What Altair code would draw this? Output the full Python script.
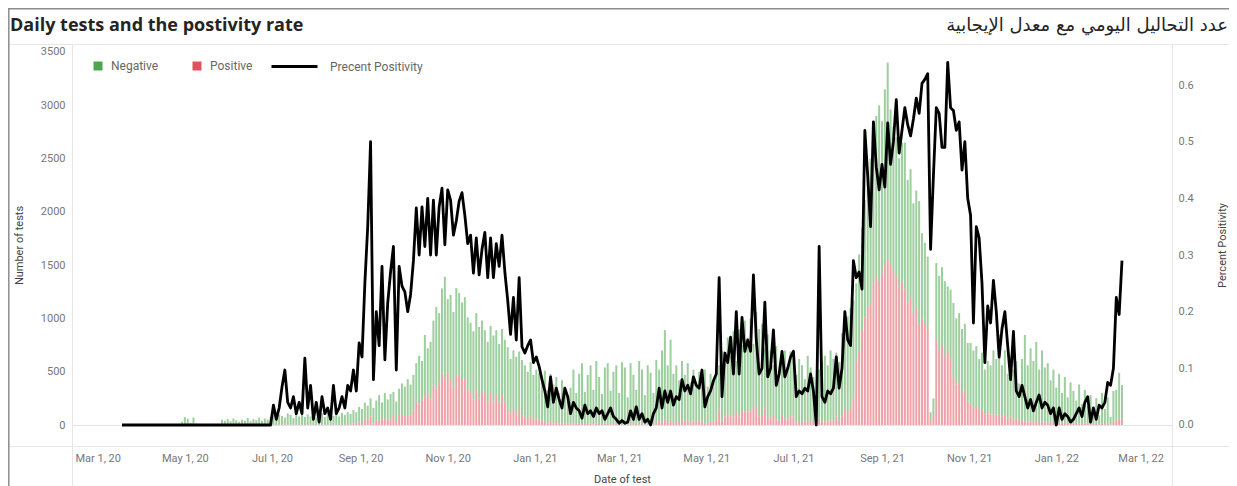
import altair as alt
import pandas as pd

# ---------------- data ----------------
START_DATE = "2020-03-18"   # first plotted day; one value every STEP_DAYS days
STEP_DAYS = 2

TITLE_EN = "Daily tests and the postivity rate"
TITLE_AR = "عدد التحاليل اليومي مع معدل الإيجابية"
RESULTS = ["Negative", "Positive"]
RESULT_COLORS = ["#4da64d", "#e0535c"]
LINE_NAME = "Precent Positivity"
X_TICKS = [(2020, 3, 1), (2020, 5, 1), (2020, 7, 1), (2020, 9, 1), (2020, 11, 1),
           (2021, 1, 1), (2021, 3, 1), (2021, 5, 1), (2021, 7, 1), (2021, 9, 1),
           (2021, 11, 1), (2022, 1, 1), (2022, 3, 1)]
LEFT_TICKS = [0, 500, 1000, 1500, 2000, 2500, 3000, 3500]
RIGHT_TICKS = [0.0, 0.1, 0.2, 0.3, 0.4, 0.5, 0.6]

negative = [
    0, 0, 0, 0, 0, 0, 0, 0, 0, 0, 0, 0, 0, 0, 0, 0, 0, 0, 0, 0,
    5, 30, 75, 60, 20, 70, 15, 10, 4, 0, 3, 0, 5, 2, 8,
    50, 40, 55, 35, 60, 45, 30, 50, 40, 65, 35, 55, 45, 70, 40, 60, 50, 75,
    87, 59, 97, 79, 63, 106, 92, 62, 103, 77, 93, 66,
    97, 74, 114, 67, 95, 105, 73, 116, 89, 79, 108, 78, 109, 92, 112, 99,
    126, 113, 145, 132, 160, 120, 170, 147,
    185, 240, 155, 255, 180, 235, 215, 195,
    245, 295, 275, 345, 290, 335,
    360, 460, 370, 575, 430, 540,
    610, 767, 650, 800,
    950,
    690, 800, 700, 825, 770, 720, 760,
    680, 650, 640, 710, 670, 680,
    600, 570, 630, 620, 610, 550, 610, 580,
    580, 510, 550, 540, 550, 520,
    490, 435, 510, 415, 460, 440, 410, 480,
    318, 442, 364, 422, 286, 407, 338, 266,
    343, 505, 291, 468, 573, 300, 461, 546, 325, 585, 441, 287, 529, 563, 315, 492,
    552, 298, 586, 537, 258, 566, 465, 319, 594, 510, 278, 554, 490, 294, 592,
    486, 679, 837, 538, 752, 463,
    532, 401, 552, 442, 539, 378, 476,
    353, 467, 406, 503, 342, 451, 387, 464,
    414, 665, 541, 730, 549, 801, 480, 819,
    610, 853, 697, 870, 600, 901, 819, 855, 564, 778,
    630, 466, 688, 437, 565, 640, 468, 607, 522, 446, 583, 529, 402, 611, 491, 423,
    150,
    460, 570, 624, 526, 661, 580, 598, 552,
    780, 800, 890, 950, 920,
    730, 900, 960, 1100, 1200, 1350,
    1410, 1500, 1650, 1430, 1650,
    1850,
    1440, 1350, 1300, 1200, 1300,
    1380, 1150, 1200, 1030, 1100, 1150, 800,
    760, 660,
    80, 150,
    720, 700, 730, 700, 600, 650,
    695, 620, 650, 600, 630, 550,
    570, 540, 560, 480, 530, 420, 480, 460,
    600, 530, 750, 480, 610, 420, 570, 470, 540, 350,
    580, 810, 530, 685, 575, 740, 492, 670, 515,
    555, 400, 498, 335, 460, 288, 432, 250, 385, 308, 222, 366, 194,
    316, 172, 268, 115, 240, 86, 287, 144, 248, 72, 300, 290, 430, 315,
]

positive = [
    0, 0, 0, 0, 0, 0, 0, 0, 0, 0, 0, 0, 0, 0, 0, 0, 0, 0, 0, 0,
    0, 0, 0, 0, 0, 0, 0, 0, 0, 0, 0, 0, 0, 0, 0,
    0, 0, 0, 0, 0, 0, 0, 0, 0, 0, 0, 0, 0, 0, 0, 0, 0, 0,
    3, 1, 3, 6, 7, 4, 3, 3, 2, 3, 2, 9,
    3, 6, 1, 3, 0, 5, 2, 4, 1, 6, 2, 2, 6, 3, 8, 6,
    14, 7, 25, 18, 50, 60, 80, 13,
    45, 40, 55, 45, 60, 55, 95, 25,
    95, 95, 85, 85, 90, 135,
    220, 190, 230, 270, 290, 240,
    370, 340, 400, 480,
    440,
    490, 420, 360, 460, 470, 430, 440,
    330, 310, 240, 340, 250, 300,
    290, 210, 300, 220, 280, 210, 290, 220,
    150, 110, 150, 100, 140, 90,
    70, 65, 80, 55, 60, 50, 40, 30,
    12, 38, 16, 28, 14, 13, 22, 14,
    7, 15, 9, 12, 7, 10, 9, 14, 5, 15, 9, 3, 11, 17, 5, 8,
    8, 2, 4, 3, 2, 14, 5, 11, 6, 10, 2, 6, 0, 6, 18,
    34, 21, 53, 22, 48, 17,
    28, 19, 48, 28, 41, 22, 44,
    27, 33, 44, 17, 18, 29, 33, 46,
    146, 35, 79, 90, 101, 79, 120, 81,
    140, 127, 123, 130, 160, 159, 81, 95, 156, 72,
    70, 94, 52, 43, 85, 60, 52, 83, 78, 24, 37, 31, 28, 39, 49, 27,
    0,
    60, 30, 26, 34, 39, 40, 82, 38,
    80, 150, 130, 150, 250,
    600, 700, 890, 1010, 1100, 1150,
    1330, 1400, 1350, 1420, 1500,
    1550,
    1520, 1450, 1400, 1300, 1350,
    1270, 1150, 1200, 1050, 1100, 950, 1000,
    950, 920,
    40, 100,
    800, 700, 750, 650, 700, 620,
    450, 380, 400, 300, 320, 220,
    200, 160, 180, 140, 150, 100, 120, 100,
    100, 90, 100, 80, 90, 60, 80, 50, 60, 40,
    40, 35, 30, 35, 25, 40, 28, 30, 25,
    25, 20, 22, 15, 20, 12, 18, 10, 15, 12, 8, 14, 6,
    14, 8, 12, 5, 10, 4, 13, 6, 12, 3, 20, 40, 60, 60,
]

positivity = [
    0, 0, 0, 0, 0, 0, 0, 0, 0, 0, 0, 0, 0, 0, 0, 0, 0, 0, 0, 0,
    0, 0, 0, 0, 0, 0, 0, 0, 0, 0, 0, 0, 0, 0, 0, 0, 0, 0, 0, 0,
    0, 0, 0, 0, 0, 0, 0, 0, 0, 0, 0, 0, 0,
    0.035, 0.01, 0.03, 0.067, 0.097, 0.04, 0.03, 0.05, 0.02, 0.04, 0.02, 0.118,
    0.03, 0.07, 0.01, 0.04, 0.005, 0.05, 0.02, 0.03, 0.01, 0.07, 0.02, 0.03, 0.05, 0.03, 0.07, 0.06,
    0.097, 0.06, 0.145, 0.12, 0.25, 0.35, 0.50, 0.08,
    0.2, 0.14, 0.28, 0.115, 0.215, 0.27, 0.315, 0.097,
    0.28, 0.245, 0.235, 0.20, 0.23, 0.29,
    0.383, 0.30, 0.385, 0.315, 0.40, 0.30, 0.397, 0.30, 0.385, 0.418,
    0.318, 0.415, 0.397, 0.335, 0.36, 0.395, 0.41, 0.37, 0.32, 0.335,
    0.268, 0.33, 0.265, 0.31, 0.34, 0.26, 0.33, 0.26, 0.32, 0.28, 0.335, 0.27,
    0.22, 0.16, 0.225, 0.15, 0.26, 0.138, 0.127, 0.14, 0.15, 0.11, 0.12, 0.103,
    0.08, 0.06, 0.032, 0.085, 0.04, 0.065, 0.045, 0.03, 0.065, 0.05, 0.02, 0.04, 0.03, 0.025,
    0.012, 0.035, 0.02, 0.025, 0.015, 0.03, 0.02, 0.025, 0.01, 0.02, 0.03, 0.015,
    0.01, 0.003, 0.008, 0.003, 0.005, 0.025, 0.01, 0.032, 0.01, 0.02, 0.005, 0.01, 0.0, 0.02, 0.03,
    0.065, 0.03, 0.06, 0.04, 0.06, 0.035, 0.05, 0.045, 0.08, 0.06, 0.07, 0.055, 0.085,
    0.07, 0.065, 0.097, 0.032, 0.05, 0.06, 0.078, 0.09,
    0.26, 0.05, 0.127, 0.11, 0.155, 0.09, 0.2, 0.09, 0.19, 0.13, 0.15, 0.13, 0.265, 0.15, 0.09, 0.10, 0.217, 0.085,
    0.10, 0.168, 0.07, 0.09, 0.13, 0.085, 0.10, 0.12, 0.13, 0.05, 0.06, 0.055, 0.065, 0.06, 0.09, 0.06,
    0.0,
    0.315, 0.05, 0.04, 0.06, 0.055, 0.065, 0.12, 0.065,
    0.10, 0.2, 0.15, 0.14, 0.29, 0.26, 0.27, 0.24,
    0.52, 0.44, 0.35, 0.535, 0.455, 0.415, 0.46, 0.42, 0.533, 0.46, 0.50,
    0.574, 0.48, 0.52, 0.56, 0.53, 0.51, 0.54, 0.577, 0.55, 0.603, 0.61, 0.62,
    0.31, 0.44, 0.56, 0.55, 0.49, 0.49, 0.64, 0.56, 0.555, 0.52, 0.535,
    0.45, 0.50, 0.40, 0.37, 0.18, 0.35, 0.33, 0.25, 0.11, 0.21, 0.18,
    0.255, 0.20, 0.12, 0.17, 0.2, 0.14, 0.08, 0.165, 0.06, 0.05,
    0.07, 0.05, 0.03, 0.045, 0.025, 0.04, 0.053, 0.03, 0.04, 0.035, 0.02, 0.03,
    0.0, 0.03, 0.01, 0.02, 0.015, 0.005, 0.01, 0.02, 0.03, 0.015, 0.04, 0.05,
    0.005, 0.03, 0.01, 0.035, 0.03, 0.04, 0.075, 0.07, 0.1, 0.225, 0.195, 0.29,
]

# ---------------- tables ----------------
n = min(len(negative), len(positive), len(positivity))
dates = pd.date_range(START_DATE, periods=n, freq=f"{STEP_DAYS}D").strftime("%Y-%m-%d").tolist()

bars_df = pd.DataFrame({
    "date": dates + dates,
    "result": [RESULTS[0]] * n + [RESULTS[1]] * n,
    "tests": negative[:n] + positive[:n],
    "stack_rank": [1] * n + [0] * n,
})
line_df = pd.DataFrame({"date": dates, "rate": positivity[:n], "series": [LINE_NAME] * n})

# ---------------- layout ----------------
W, H = 1100, 402
LABEL_FONT = "Roboto"
LABEL_COLOR = "#777777"
TITLE_COLOR = "#444444"


def x_enc():
    return alt.X(
        "date:T",
        scale=alt.Scale(type="utc", padding=0,
                        domain=[alt.DateTime(year=2020, month=2, date=12, utc=True),
                                alt.DateTime(year=2022, month=3, date=23, utc=True)]),
        axis=alt.Axis(
            values=[alt.DateTime(year=y, month=m, date=d, utc=True) for (y, m, d) in X_TICKS],
            format="%b %-d, %y", title="Date of test", grid=False, domain=False, ticks=False,
            tickSize=0, labelPadding=6, labelFont=LABEL_FONT, labelFontSize=11,
            labelColor=LABEL_COLOR, titleFont=LABEL_FONT, titleFontSize=11,
            titleFontWeight="normal", titleColor=TITLE_COLOR, titlePadding=10,
            labelOverlap=False, labelFlush=False,
        ),
    )


bars = alt.Chart(bars_df).mark_bar(size=2, opacity=0.55).encode(
    x=x_enc(),
    y=alt.Y(
        "tests:Q", stack="zero",
        scale=alt.Scale(domain=[-197, 3575], nice=False, zero=False),
        axis=alt.Axis(
            orient="left", values=LEFT_TICKS, format="d", title="Number of tests",
            grid=True, gridColor="#e4e4e4", gridOpacity=alt.expr("datum.value == 0 ? 1 : 0"),
            domain=False, ticks=False, tickSize=0, labelPadding=7,
            labelFont=LABEL_FONT, labelFontSize=11, labelColor=LABEL_COLOR,
            titleFont=LABEL_FONT, titleFontSize=11, titleFontWeight="normal",
            titleColor=TITLE_COLOR, titlePadding=16,
        ),
    ),
    color=alt.Color(
        "result:N",
        scale=alt.Scale(domain=RESULTS, range=RESULT_COLORS),
        legend=alt.Legend(
            orient="none", legendX=20, legendY=16, direction="horizontal", title=None,
            symbolType="square", symbolSize=81, symbolOpacity=1, symbolStrokeWidth=0,
            labelOffset=7, columnPadding=32, padding=0,
            labelFont=LABEL_FONT, labelFontSize=12, labelColor="#666666",
        ),
    ),
    order=alt.Order("stack_rank:Q", sort="ascending"),
)

line = alt.Chart(line_df).mark_line(strokeWidth=2.8, strokeJoin="round").encode(
    x=x_enc(),
    y=alt.Y(
        "rate:Q",
        scale=alt.Scale(domain=[-0.0371, 0.6724], nice=False, zero=False),
        axis=alt.Axis(
            orient="right", values=RIGHT_TICKS, format=".1f", title="Percent Positivity",
            grid=False, domain=False, ticks=False, tickSize=0, labelPadding=6,
            labelFont=LABEL_FONT, labelFontSize=11, labelColor=LABEL_COLOR,
            titleFont=LABEL_FONT, titleFontSize=11, titleFontWeight="normal",
            titleColor=TITLE_COLOR, titlePadding=34, titleAngle=270,
        ),
    ),
    stroke=alt.Stroke(
        "series:N",
        scale=alt.Scale(domain=[LINE_NAME], range=["#000000"]),
        legend=alt.Legend(
            orient="none", legendX=198, legendY=-2, title=None, symbolType="stroke",
            symbolSize=2116, symbolStrokeWidth=3, labelOffset=11, padding=0,
            labelFont=LABEL_FONT, labelFontSize=12, labelColor="#666666",
        ),
    ),
)

one = pd.DataFrame({"k": [0]})


def hrule(y, x1, x2, color, w):
    return alt.Chart(one).mark_rule(color=color, strokeWidth=w).encode(
        x=alt.value(x1), x2=alt.value(x2), y=alt.value(y))


def vrule(x, y1, y2, color, w):
    return alt.Chart(one).mark_rule(color=color, strokeWidth=w).encode(
        x=alt.value(x), y=alt.value(y1), y2=alt.value(y2))


deco = [
    hrule(0.5, -64, 1160, "#e6e6e6", 1),
    hrule(402.5, -64, 1160, "#e6e6e6", 1),
    vrule(0.5, 0, 442, "#e6e6e6", 1),
    vrule(1100.5, 0, 442, "#e6e6e6", 1),
    hrule(-35.2, -64, 1160, "#8c8c8c", 1.5),
    vrule(-63.2, -36, 442, "#8c8c8c", 1.5),
]

title_en = alt.Chart(pd.DataFrame({"t": [TITLE_EN]})).mark_text(
    align="left", baseline="alphabetic", font="Open Sans", fontSize=18,
    fontWeight="bold", color="#252423",
).encode(text="t:N", x=alt.value(-62), y=alt.value(-13))

title_ar = alt.Chart(pd.DataFrame({"t": [TITLE_AR]})).mark_text(
    align="right", baseline="alphabetic", font="DejaVu Sans", fontSize=18,
    color="#252423",
).encode(text="t:N", x=alt.value(1156), y=alt.value(-13))

chart = alt.layer(*deco, bars, line, title_en, title_ar).resolve_scale(
    y="independent"
).properties(
    width=W, height=H,
    autosize=alt.AutoSizeParams(type="none"),
    padding={"left": 64, "top": 36, "right": 57, "bottom": 40},
).configure_view(strokeWidth=0).configure(background="white")

chart.save("out.html", embed_options={"renderer": "svg", "actions": False})
